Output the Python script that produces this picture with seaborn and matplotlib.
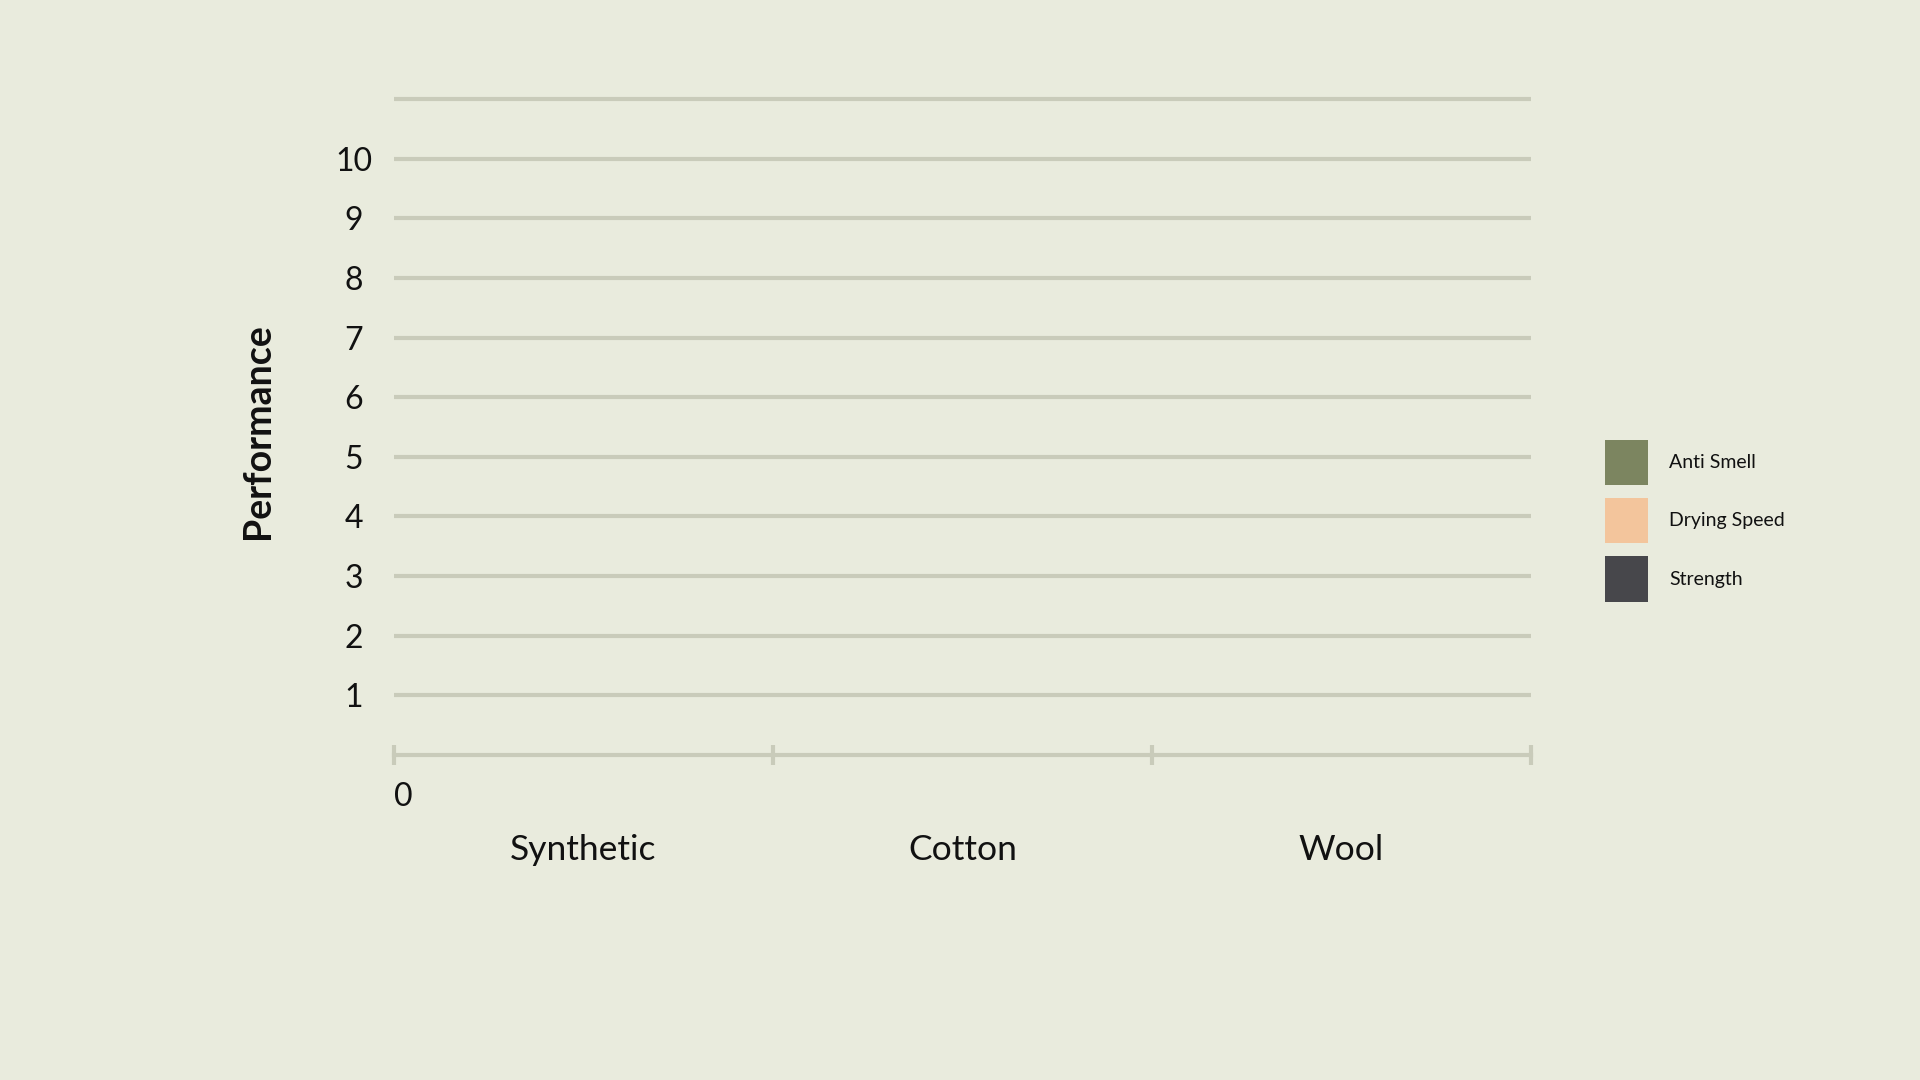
import matplotlib
matplotlib.use("Agg")
import matplotlib.pyplot as plt
import seaborn as sns
import pandas as pd
import numpy as np

# ---- data ----
materials = ["Synthetic", "Cotton", "Wool"]
metrics = ["Anti Smell", "Drying Speed", "Strength"]
anti_smell = [0, 0, 0]
drying_speed = [0, 0, 0]
strength = [0, 0, 0]
y_ticks = [1, 2, 3, 4, 5, 6, 7, 8, 9, 10, 11]
y_tick_labels = ["1", "2", "3", "4", "5", "6", "7", "8", "9", "10", ""]

colors = ["#7C8560", "#F3C59C", "#47474B"]
bg = "#E9EBDD"
grid_c = "#C9CBBA"

df = pd.DataFrame({
    "Material": materials * 3,
    "Metric": [metrics[0]] * 3 + [metrics[1]] * 3 + [metrics[2]] * 3,
    "Value": anti_smell + drying_speed + strength,
})

sns.set_theme(style="white")
plt.rcParams["font.family"] = ["Lato", "DejaVu Sans"]

fig = plt.figure(figsize=(19.2, 10.8), dpi=100, facecolor=bg)
ax_bottom = 1 - 755 / 1080
ax_top_px = 93
ax_h = (755 - ax_top_px) / 1080
ax = fig.add_axes([394 / 1920, ax_bottom, (1531 - 394) / 1920, ax_h])
ax.set_facecolor(bg)

sns.barplot(data=df, x="Material", y="Value", hue="Metric", order=materials,
            hue_order=metrics, palette=colors, ax=ax, linewidth=0,
            edgecolor="none", errorbar=None, width=0.7, saturation=1)
handles, labels = ax.get_legend_handles_labels()
if ax.get_legend() is not None:
    ax.get_legend().remove()

ax.set_xlim(-0.5, 2.5)
ax.set_ylim(0, 11 * (755 - ax_top_px) / (755 - 99))

for s in ["top", "right", "left"]:
    ax.spines[s].set_visible(False)
ax.spines["bottom"].set_color(grid_c)
ax.spines["bottom"].set_linewidth(3)

ax.set_yticks(y_ticks)
ax.set_yticklabels(y_tick_labels)
ax.yaxis.grid(True, color=grid_c, linewidth=3)
ax.set_axisbelow(True)
ax.tick_params(axis="y", length=0, pad=29, labelsize=23, labelcolor="#111111")
for t in ax.get_yticklabels():
    t.set_horizontalalignment("center")

ax.set_xticks([0, 1, 2])
ax.set_xticklabels(materials)
ax.set_xticks([-0.5, 0.5, 1.5, 2.5], minor=True)
ax.tick_params(axis="x", which="major", length=0, pad=57, labelsize=25.5,
               labelcolor="#111111")
ax.tick_params(axis="x", which="minor", length=14, width=3, color=grid_c,
               direction="inout", bottom=True)
ax.set_xlabel("")

ax.annotate("0", xy=(-0.5, 0), xytext=(6.5, -30), textcoords="offset points",
            ha="center", va="center", fontsize=23, color="#111111",
            annotation_clip=False)

ax.set_ylabel("Performance", fontsize=27, fontweight="bold", color="#111111",
              va="center")
ax.yaxis.set_label_coords((258 - 394) / (1531 - 394), (755 - 431) / (755 - ax_top_px))

leg = fig.legend(handles, labels, loc="upper left",
                 bbox_to_anchor=(1605 / 1920, 1 - 440 / 1080),
                 bbox_transform=fig.transFigure, frameon=False,
                 fontsize=14, handlelength=2.2, handleheight=3.2,
                 labelspacing=0.67, handletextpad=1.1, borderpad=0,
                 borderaxespad=0)
for t in leg.get_texts():
    t.set_color("#111111")

fig.savefig("out.png", dpi=100, facecolor=bg)
